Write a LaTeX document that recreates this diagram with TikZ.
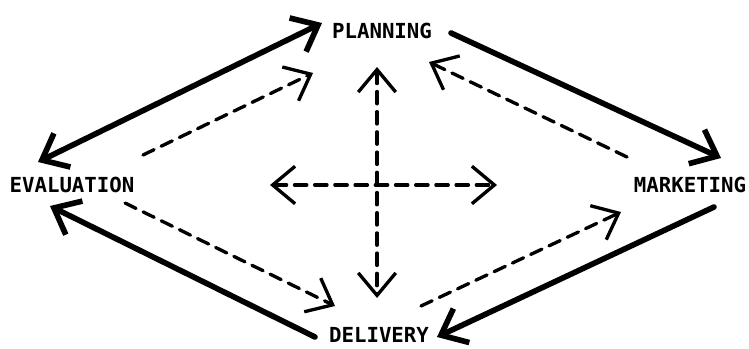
\documentclass[tikz,border=0pt]{standalone}
\usepackage{fontspec}
\setmonofont{DejaVu Sans Mono}
\usetikzlibrary{arrows.meta}
\usetikzlibrary{calc}

\tikzset{
  barb/.tip={Straight Barb[length=4.5mm,width=7.5mm]},
  stagelabel/.style={font=\ttfamily\bfseries\fontsize{11.8}{13}\selectfont, inner sep=0pt},
  mainflow/.style={line width=3.2pt, line cap=round, line join=round, -barb},
  sideflow/.style={line width=1.9pt, line cap=round, line join=round,
    dash pattern=on 7pt off 4.5pt, -barb},
  twoway/.style={barb-barb},
}

\begin{document}
\begin{tikzpicture}[x=0.02cm, y=-0.02cm]
    \useasboundingbox (0,0) rectangle (749,348);
    \node[stagelabel] (plan) at (382,31) {PLANNING};
    \node[stagelabel] (eval) at (72,185) {EVALUATION};
    \node[stagelabel] (mark) at (690,185) {MARKETING};
    \node[stagelabel] (deli) at (379,335) {DELIVERY};
    \coordinate (hub) at (377,185);

    % outer cycle
    \draw[mainflow, twoway] ($(eval)+(-34,-23)$) -- ($(plan)+(-60,-8)$);
    \draw[mainflow] ($(plan)+(69,2)$) -- ($(mark)+(31,-27)$);
    \draw[mainflow] ($(mark)+(24,22)$) -- ($(deli)+(58,2)$);
    \draw[mainflow] ($(deli)+(-64,2)$) -- ($(eval)+(-22,21)$);

    % inner links
    \draw[sideflow] ($(eval)+(71,-30)$) -- ($(plan)+(-69,42)$);
    \draw[sideflow] ($(mark)+(-63,-28)$) -- ($(plan)+(47,31)$);
    \draw[sideflow] ($(eval)+(53,18)$) -- ($(deli)+(-44,-29)$);
    \draw[sideflow] ($(deli)+(42,-29)$) -- ($(mark)+(-69,27)$);

    % centre cross
    \draw[sideflow, twoway] ($(hub)+(-107,0)$) -- ($(hub)+(120,0)$);
    \draw[sideflow, twoway] ($(hub)+(0,-118)$) -- ($(hub)+(0,113)$);
\end{tikzpicture}
\end{document}
